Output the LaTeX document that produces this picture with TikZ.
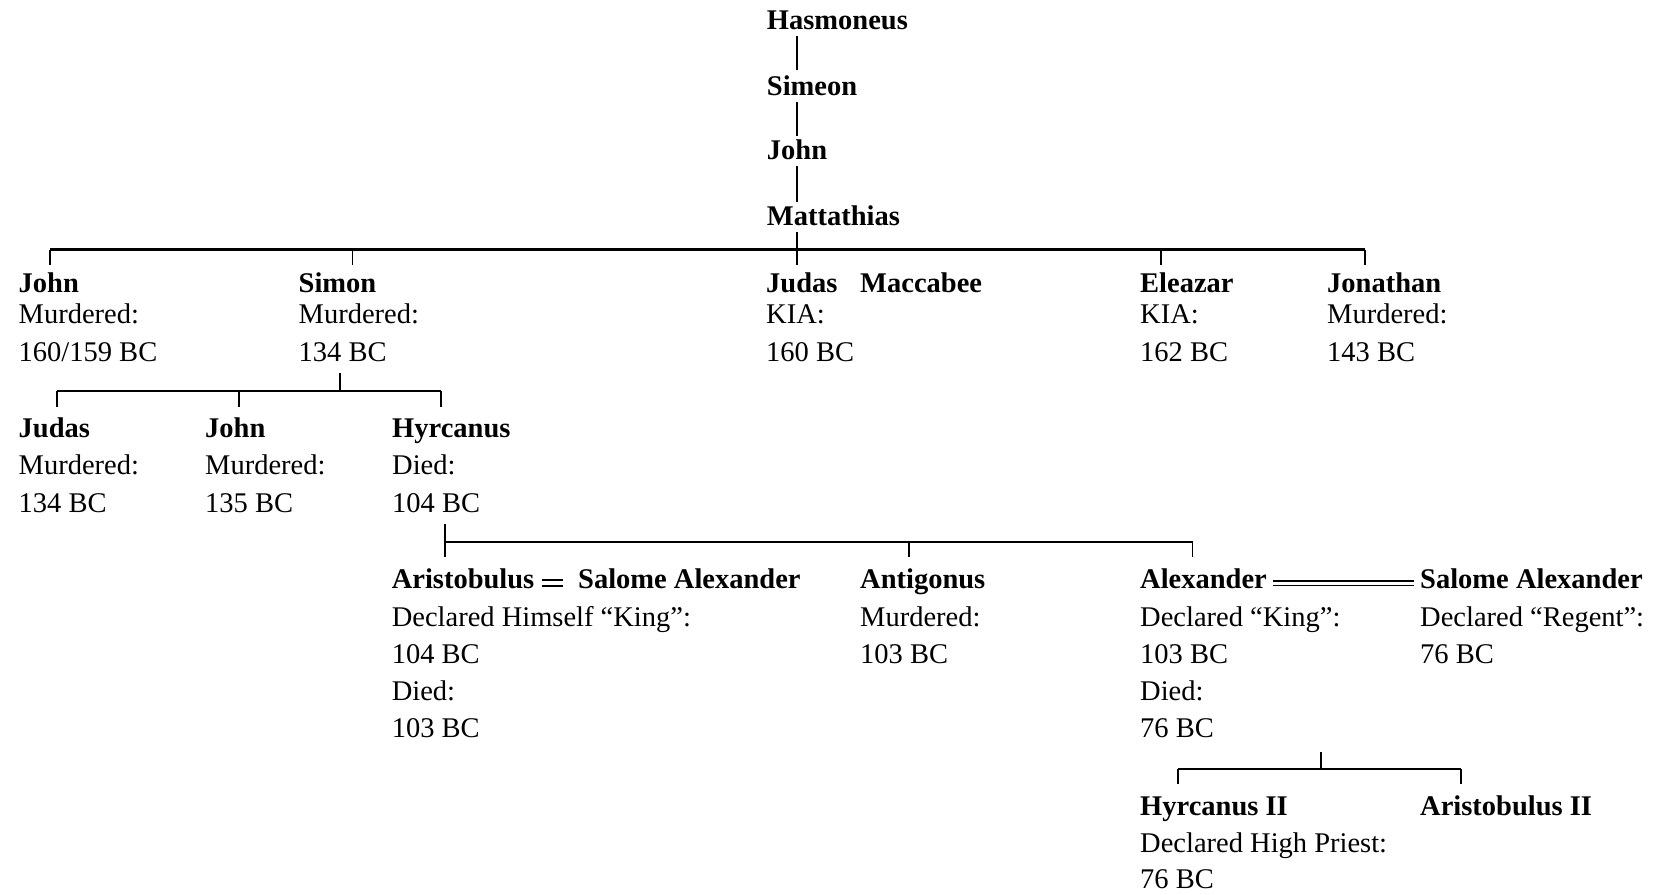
\documentclass[tikz,border=0pt]{standalone}
\usepackage{fontspec}
\setmainfont{Liberation Serif}
\newcommand\fs{\fontsize{28.5}{34}\selectfont}
\tikzset{
  nm/.style={anchor=base west, inner sep=0pt, font=\bfseries\fs, text height=23pt, text depth=7pt},
  tx/.style={anchor=base west, inner sep=0pt, font=\fs, text height=20pt, text depth=7pt},
  conn/.style={line width=1.9pt},
  barline/.style={line width=2.2pt},
  marrA/.style={double, line width=2pt, double distance=4pt},
  marrB/.style={double, line width=1.6pt, double distance=2.9pt}
}
\begin{document}
\begin{tikzpicture}[x=1pt,y=-1pt]
\useasboundingbox (0,0) rectangle (1654,894);

% top chain
\node[nm] (hasm) at (766.7,29) {Hasmoneus};
\node[nm] (sime) at (766.7,95) {Simeon};
\node[nm] (johnA) at (766.7,159) {John};
\node[nm] (matt) at (766.7,225) {Mattathias};

% row 1
\node[nm] (john1) at (18.5,292.5) {John};
\node[tx] (john1b) at (18.5,323.5) {Murdered:};
\node[tx] (john1c) at (18.5,361) {160/159 BC};
\node[nm] (simon1) at (298.5,292.5) {Simon};
\node[tx] (simon1b) at (298.5,323.5) {Murdered:};
\node[tx] (simon1c) at (298.5,361) {134 BC};
\node[nm] (judas1) at (766,292.5) {Judas};
\node[nm] (macc) at (860,292.5) {Maccabee};
\node[tx] (judas1b) at (766,323.5) {KIA:};
\node[tx] (judas1c) at (766,361) {160 BC};
\node[nm] (elea) at (1140,292.5) {Eleazar};
\node[tx] (eleab) at (1140,323.5) {KIA:};
\node[tx] (eleac) at (1140,361) {162 BC};
\node[nm] (jona) at (1327,292.5) {Jonathan};
\node[tx] (jonab) at (1327,323.5) {Murdered:};
\node[tx] (jonac) at (1327,361) {143 BC};

% row 2
\node[nm] (judas2) at (18.5,437.3) {Judas};
\node[tx] (judas2b) at (18.5,474.5) {Murdered:};
\node[tx] (judas2c) at (18.5,512) {134 BC};
\node[nm] (john2) at (205,437.3) {John};
\node[tx] (john2b) at (205,474.5) {Murdered:};
\node[tx] (john2c) at (205,512) {135 BC};
\node[nm] (hyrc) at (392,437.3) {Hyrcanus};
\node[tx] (hyrcb) at (392,474.5) {Died:};
\node[tx] (hyrcc) at (392,512) {104 BC};

% row 3
\node[nm] (aris) at (391.6,588.3) {Aristobulus};
\node[tx] (arisb) at (391.6,626) {Declared Himself “King”:};
\node[tx] (arisc) at (391.6,663) {104 BC};
\node[tx] (arisd) at (391.6,700) {Died:};
\node[tx] (arise) at (391.6,737) {103 BC};
\node[nm] (sal1) at (578,588.3) {Salome Alexander};
\node[nm] (anti) at (860,588.3) {Antigonus};
\node[tx] (antib) at (860,626) {Murdered:};
\node[tx] (antic) at (860,663) {103 BC};
\node[nm] (alex) at (1140,588.3) {Alexander};
\node[tx] (alexb) at (1140,626) {Declared “King”:};
\node[tx] (alexc) at (1140,663) {103 BC};
\node[tx] (alexd) at (1140,700) {Died:};
\node[tx] (alexe) at (1140,737) {76 BC};
\node[nm] (sal2) at (1420,588.3) {Salome Alexander};
\node[tx] (sal2b) at (1420,626) {Declared “Regent”:};
\node[tx] (sal2c) at (1420,663) {76 BC};

% row 4
\node[nm] (hyr2) at (1140,815.5) {Hyrcanus II};
\node[tx] (hyr2b) at (1140,852.7) {Declared High Priest:};
\node[tx] (hyr2c) at (1140,888.3) {76 BC};
\node[nm] (ari2) at (1420,815.5) {Aristobulus II};

% junction coordinates
\coordinate (cx) at (797,249.5);
\coordinate (b1) at (50,249.5);
\coordinate (b2) at (352.5,249.5);
\coordinate (b4) at (1161,249.5);
\coordinate (b5) at (1365,249.5);
\coordinate (s0) at (340,390.7);
\coordinate (s1) at (56.7,390.7);
\coordinate (s2) at (239,390.7);
\coordinate (s3) at (441,390.7);
\coordinate (h0) at (445,541.7);
\coordinate (h1) at (909,541.7);
\coordinate (h2) at (1192.5,541.7);
\coordinate (a0) at (1321,769.3);
\coordinate (a1) at (1178.3,769.3);
\coordinate (a2) at (1461,769.3);

% top chain connectors
\draw[conn,shorten >=2pt] (hasm.south -| cx) -- (sime.north -| cx);
\draw[conn] (sime.south -| cx) -- (johnA.north -| cx);
\draw[conn] (johnA.south -| cx) -- (matt.north -| cx);
\draw[conn] (matt.south -| cx) -- (cx);

% main bar and ticks
\draw[barline] (b1) -- (b5);
\draw[conn,shorten >=4pt] (b1) -- (b1 |- john1.north);
\draw[conn,shorten >=4pt] (b2) -- (b2 |- simon1.north);
\draw[conn,shorten >=4pt] (cx) -- (cx |- judas1.north);
\draw[conn,shorten >=4pt] (b4) -- (b4 |- elea.north);
\draw[conn,shorten >=4pt] (b5) -- (b5 |- jona.north);

% Simon's children
\draw[conn,shorten <=5pt] (simon1c.south -| s0) -- (s0);
\draw[barline] (s1) -- (s3);
\draw[conn,shorten >=7.6pt] (s1) -- (s1 |- judas2.north);
\draw[conn,shorten >=7.6pt] (s2) -- (s2 |- john2.north);
\draw[conn,shorten >=7.6pt] (s3) -- (s3 |- hyrc.north);

% Hyrcanus' children
\draw[conn,shorten <=4.7pt,shorten >=8pt] (hyrcc.south -| h0) -- (h0 |- aris.north);
\draw[barline] (h0) -- (h2);
\draw[conn,shorten >=8.3pt] (h1) -- (h1 |- anti.north);
\draw[conn,shorten >=8.3pt] (h2) -- (h2 |- alex.north);

% marriages
\draw[marrA] ([xshift=-36.3pt,yshift=5.3pt]sal1.base west) -- ([xshift=-15.3pt,yshift=5.3pt]sal1.base west);
\draw[marrB] ([xshift=-147pt,yshift=5pt]sal2.base west) -- ([xshift=-6pt,yshift=5pt]sal2.base west);

% Alexander's children
\draw[conn,shorten <=7.7pt] (alexe.south -| a0) -- (a0);
\draw[barline] (a1) -- (a2);
\draw[conn,shorten >=8pt] (a1) -- (a1 |- hyr2.north);
\draw[conn,shorten >=8pt] (a2) -- (a2 |- ari2.north);
\end{tikzpicture}
\end{document}
